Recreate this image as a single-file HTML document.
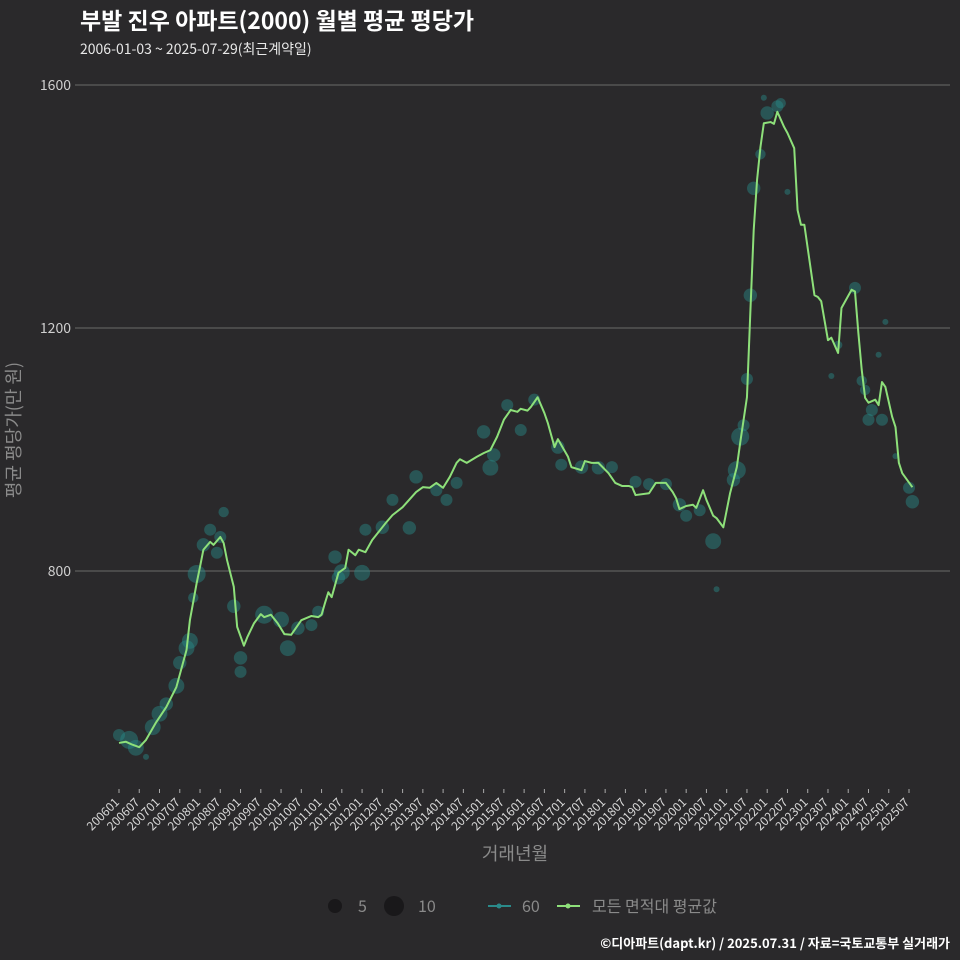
<!DOCTYPE html>
<html><head><meta charset="utf-8"><style>
body{margin:0;background:#2a292b;}
svg{display:block;font-family:"Noto Sans CJK KR","Liberation Sans",sans-serif;}
</style></head><body>
<svg id="chart" width="960" height="960" viewBox="0 0 960 960">
<rect width="960" height="960" fill="#2a292b"/>
<text x="80" y="29" fill="#ffffff" font-size="23" font-weight="bold">부발 진우 아파트(2000) 월별 평균 평당가</text>
<text x="80" y="54" fill="#e8e8e8" font-size="14">2006-01-03 ~ 2025-07-29(최근계약일)</text>
<g id="grid"></g>
<g id="bubbles"></g>
<g id="line"></g>
<g id="xaxis"></g>
<text x="515" y="860" fill="#8a8a8a" font-size="18" text-anchor="middle">거래년월</text>
<text transform="translate(20,430) rotate(-90)" fill="#8a8a8a" font-size="18" text-anchor="middle" style="font-family:'Noto Sans CJK KR',sans-serif">평균 평당가(만 원)</text>
<g>
<g><circle cx="335" cy="906" r="7" fill="#19181a"/><text x="358" y="912" fill="#8a8a8a" font-size="16">5</text></g>
<g><circle cx="394" cy="906" r="10" fill="#19181a"/><text x="418" y="912" fill="#8a8a8a" font-size="16">10</text></g>
<g><line x1="488" y1="906" x2="511" y2="906" stroke="#2a8a8a" stroke-width="2"/><circle cx="499" cy="906" r="2.5" fill="#2a8a8a"/><text x="522" y="912" fill="#8a8a8a" font-size="16">60</text></g>
<g><line x1="557" y1="906" x2="580" y2="906" stroke="#8ee07a" stroke-width="2"/><circle cx="568" cy="906" r="2.5" fill="#8ee07a"/><text x="592" y="912" fill="#8a8a8a" font-size="16">모든 면적대 평균값</text></g>
</g>
<text x="950" y="948" fill="#ffffff" font-size="13" font-weight="bold" text-anchor="end">©디아파트(dapt.kr) / 2025.07.31 / 자료=국토교통부 실거래가</text>
</svg>
<script>
const yTicks=[800,1200,1600];
const xTickLabels=[];
for(let yr=2006;yr<=2025;yr++){xTickLabels.push(yr+'01');xTickLabels.push(yr+'07');}
const lineMonths=[0,2,4,6,8,11,14,17,20,21,23,24,25,27,28,30,31,32,34,35,37,38,40,42,43,45,47,49,51,53,54,57,59,60,61,62,63,65,67,68,70,71,73,75,79,81,84,88,90,92,94,96,98,100,101,103,106,108,110,112,114,116,118,119,121,122,124,126,127,129,130,133,134,137,138,140,142,145,147,149,151,152,153,157,159,162,164,165,166,168,170,171,173,174,176,177,179,181,183,184,186,187,188,189,190,191,193,194,195,197,198,200,201,202,203,206,207,208,210,211,213,214,217,218,219,220,221,222,224,225,226,227,229,230,231,232,235];
const lineValues=[517,519,514,510,522,551,576,609,670,719,780,807,835,848,843,856,846,818,774,708,677,691,714,729,724,728,714,696,695,711,719,726,724,728,747,765,757,797,805,835,826,835,831,851,879,892,905,930,938,937,945,937,955,978,984,978,988,994,999,1021,1049,1065,1062,1067,1064,1070,1086,1060,1044,1004,1017,988,971,966,981,978,978,961,945,940,940,938,925,928,945,945,930,920,902,907,909,904,933,917,891,887,872,928,971,1011,1086,1225,1361,1444,1498,1537,1539,1536,1556,1531,1521,1496,1394,1370,1370,1254,1251,1244,1180,1184,1159,1233,1263,1260,1192,1131,1085,1077,1082,1073,1111,1103,1054,1037,978,961,938];
const bubbleMonths=[0,3,5,8,10,12,14,17,18,20,21,22,23,25,27,29,30,31,34,36,36,43,48,50,53,57,59,64,65,66,72,73,78,81,86,88,94,97,100,108,110,111,115,119,123,130,131,137,142,146,153,157,162,166,168,172,176,177,182,183,184,185,186,187,188,190,191,192,195,196,198,211,213,218,220,221,222,223,225,226,227,230,234,235];
const bubbleValues=[530,522,509,494,543,565,581,611,649,673,685,756,795,843,868,830,856,897,742,657,634,728,720,673,706,711,733,823,789,798,797,868,872,917,871,955,933,917,945,1029,970,991,1073,1032,1082,1004,975,971,970,971,947,943,943,909,891,900,849,770,950,966,1021,1040,1116,1254,1430,1486,1579,1554,1565,1570,1424,1121,1172,1266,1113,1098,1049,1065,1156,1049,1210,989,937,914];
const bubbleCounts=[4,9,7,1,7,7,5,7,5,7,7,3,9,5,4,4,4,3,5,5,4,9,7,7,5,4,4,5,5,7,7,4,5,4,5,5,4,4,4,5,7,5,4,4,4,5,4,5,5,4,4,4,4,5,4,4,7,1,5,9,9,4,4,5,5,3,1,5,4,3,1,1,2,4,3,3,4,4,1,4,1,1,4,5];

const NS='http://www.w3.org/2000/svg';
const x=m=>119+m*(790/234);
const y=v=>571-(v-800)*(243/400);
const grid=document.getElementById('grid');
yTicks.forEach(t=>{
  const l=document.createElementNS(NS,'line');
  l.setAttribute('x1',75);l.setAttribute('x2',950);l.setAttribute('y1',y(t));l.setAttribute('y2',y(t));
  l.setAttribute('stroke','#6a6a6a');l.setAttribute('stroke-width','1');
  
  
  grid.appendChild(l);
  const tx=document.createElementNS(NS,'text');
  tx.setAttribute('x',71);tx.setAttribute('y',y(t)+5);tx.setAttribute('text-anchor','end');
  tx.setAttribute('fill','#d0d0d0');tx.setAttribute('font-size','14');tx.textContent=t;
  
  
  grid.appendChild(tx);
});
const xa=document.getElementById('xaxis');
xTickLabels.forEach((lab,i)=>{
  const px=x(i*6);
  const tk=document.createElementNS(NS,'line');
  tk.setAttribute('x1',px);tk.setAttribute('x2',px);tk.setAttribute('y1',789);tk.setAttribute('y2',793);
  tk.setAttribute('stroke','#aaaaaa');
  
  
  xa.appendChild(tk);
  const tx=document.createElementNS(NS,'text');
  tx.setAttribute('transform','translate('+(px+1)+',803) rotate(-45)');
  tx.setAttribute('text-anchor','end');tx.setAttribute('fill','#d8d8d8');tx.setAttribute('font-size','12');
  tx.textContent=lab;
  
  
  xa.appendChild(tx);
});
const bg=document.getElementById('bubbles');
bubbleMonths.forEach((m,i)=>{
  const c=document.createElementNS(NS,'circle');
  c.setAttribute('cx',x(m));c.setAttribute('cy',y(bubbleValues[i]));
  c.setAttribute('r',3*Math.sqrt(bubbleCounts[i]));
  c.setAttribute('fill','rgba(40,140,138,0.45)');
  
  
  bg.appendChild(c);
});
const lg=document.getElementById('line');
const p=document.createElementNS(NS,'polyline');
p.setAttribute('points',lineMonths.map((m,i)=>x(m)+','+y(lineValues[i])).join(' '));
p.setAttribute('fill','none');p.setAttribute('stroke','#8ee07a');p.setAttribute('stroke-width','2');
p.setAttribute('stroke-linejoin','round');


lg.appendChild(p);
</script>
</body></html>
